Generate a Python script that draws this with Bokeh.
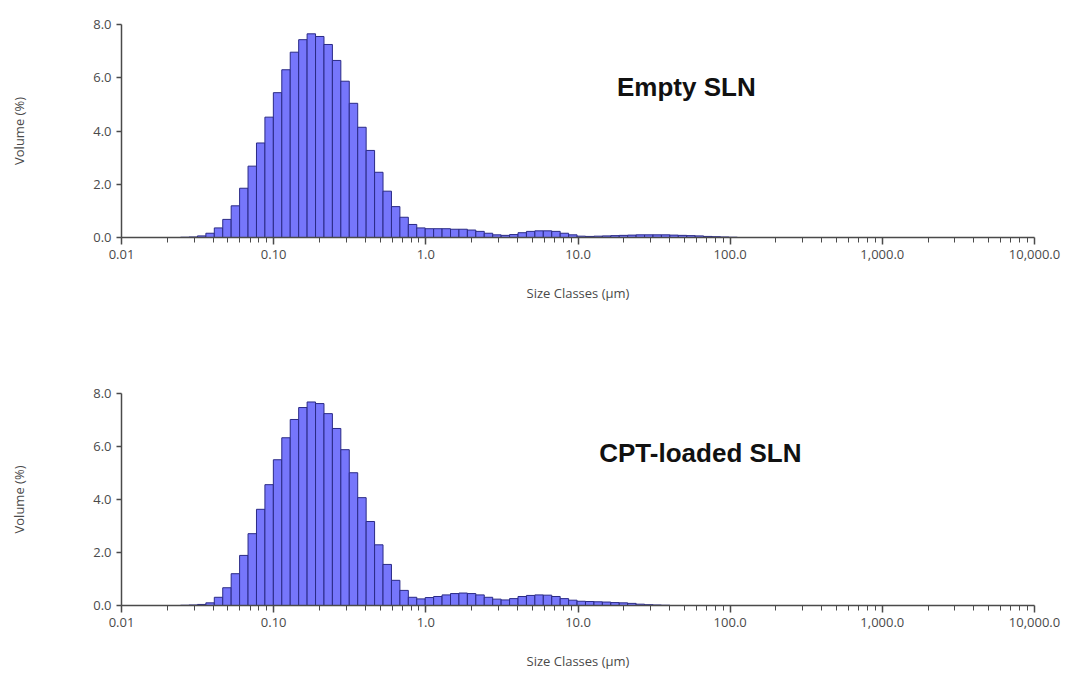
import numpy as np
from bokeh.plotting import figure
from bokeh.layouts import column
from bokeh.models import (Range1d, FixedTicker, CustomJSTickFormatter,
                          NumeralTickFormatter, Label, ColumnDataSource)
from bokeh.embed import file_html
from bokeh.resources import INLINE

# ---------------- data ----------------
# 100 log-spaced size classes (µm), 0.01 .. 3500
size_class_edges = list(np.geomspace(0.01, 3500.0, 101))

# Volume (%) per size class
empty_sln = ([0.0] * 7 +
             [0.01, 0.02, 0.06, 0.16, 0.36, 0.68, 1.19, 1.85, 2.68, 3.55,
              4.52, 5.44, 6.30, 6.96, 7.43, 7.65, 7.55, 7.25, 6.65, 5.87,
              5.04, 4.14, 3.27, 2.45, 1.74, 1.16, 0.76, 0.49, 0.36, 0.33,
              0.33, 0.33, 0.31, 0.31, 0.28, 0.23, 0.16, 0.10, 0.08, 0.11,
              0.18, 0.23, 0.25, 0.25, 0.23, 0.16, 0.10, 0.05, 0.04, 0.05,
              0.06, 0.07, 0.08, 0.09, 0.10, 0.10, 0.10, 0.10, 0.09, 0.08,
              0.07, 0.06, 0.04, 0.03, 0.02, 0.01] +
             [0.0] * 27)

cpt_loaded_sln = ([0.0] * 7 +
                  [0.01, 0.02, 0.04, 0.10, 0.31, 0.67, 1.20, 1.89, 2.71, 3.63,
                   4.56, 5.50, 6.33, 7.02, 7.47, 7.68, 7.62, 7.24, 6.68, 5.88,
                   5.01, 4.07, 3.17, 2.29, 1.55, 0.95, 0.57, 0.31, 0.25, 0.30,
                   0.34, 0.40, 0.45, 0.47, 0.45, 0.40, 0.31, 0.24, 0.21, 0.26,
                   0.34, 0.38, 0.40, 0.39, 0.34, 0.26, 0.20, 0.16, 0.15, 0.14,
                   0.13, 0.11, 0.10, 0.08, 0.05, 0.03, 0.02, 0.01] +
                  [0.0] * 35)

x_major_ticks = [0.01, 0.1, 1.0, 10.0, 100.0, 1000.0, 10000.0]
x_tick_labels = ["0.01", "0.10", "1.0", "10.0", "100.0", "1,000.0", "10,000.0"]
y_ticks = [0, 2, 4, 6, 8]
titles = ["Empty SLN", "CPT-loaded SLN"]

# ---------------- style ----------------
FILL = "#7676fb"
EDGE = "#2a2a86"
AXIS = "#4a4a4a"
TXT = "#4a4a4a"
FONT = "Open Sans"

minor = [m * 10.0 ** d for d in range(-2, 4) for m in range(2, 10)]


def make_plot(values, title, tx, ty, top, bottom):
    p = figure(width=1069, height=337, x_axis_type="log",
               x_range=Range1d(0.01, 10000), y_range=Range1d(0, 8),
               output_backend="svg", toolbar_location=None,
               min_border_left=121, min_border_right=35,
               min_border_top=top, min_border_bottom=bottom)
    src = ColumnDataSource(dict(left=size_class_edges[:-1],
                                right=size_class_edges[1:],
                                top=values))
    p.quad(left="left", right="right", top="top", bottom=0, source=src,
           fill_color=FILL, line_color=EDGE, line_width=1)

    p.xgrid.visible = False
    p.ygrid.visible = False
    p.outline_line_color = None
    p.background_fill_color = "white"

    xa = p.xaxis[0]
    xa.ticker = FixedTicker(ticks=x_major_ticks, minor_ticks=minor)
    xa.formatter = CustomJSTickFormatter(args=dict(labels=x_tick_labels), code="""
        const i = Math.round(Math.log10(tick)) + 2;
        return labels[i];
    """)
    xa.axis_label = "Size Classes (µm)"
    xa.axis_label_standoff = 22
    xa.major_tick_in = 0
    xa.major_tick_out = 7
    xa.minor_tick_in = 0
    xa.minor_tick_out = 5

    ya = p.yaxis[0]
    ya.ticker = FixedTicker(ticks=y_ticks)
    ya.formatter = NumeralTickFormatter(format="0.0")
    ya.axis_label = "Volume (%)"
    ya.axis_label_standoff = 62
    ya.major_tick_in = 0
    ya.major_tick_out = 5
    ya.minor_tick_line_color = None

    for ax in (xa, ya):
        ax.axis_line_color = AXIS
        ax.axis_line_width = 1.5
        ax.major_tick_line_color = AXIS
        ax.minor_tick_line_color = AXIS if ax is xa else None
        ax.major_tick_line_width = 1.5
        ax.major_label_text_font = FONT
        ax.major_label_text_font_size = "13px"
        ax.major_label_text_color = TXT
        ax.axis_label_text_font = FONT
        ax.axis_label_text_font_size = "13px"
        ax.axis_label_text_font_style = "normal"
        ax.axis_label_text_color = TXT

    p.add_layout(Label(x=tx, y=ty, text=title, text_align="center",
                       text_baseline="alphabetic",
                       text_font="Liberation Sans", text_font_style="bold",
                       text_font_size="26px", text_color="#111111"))
    return p


p1 = make_plot(empty_sln, titles[0], 51.5, 5.64, 24, 100)
p2 = make_plot(cpt_loaded_sln, titles[1], 63.7, 5.74, 56, 69)

layout = column(p1, p2, spacing=0)
open("out.html", "w").write(file_html(layout, INLINE))
